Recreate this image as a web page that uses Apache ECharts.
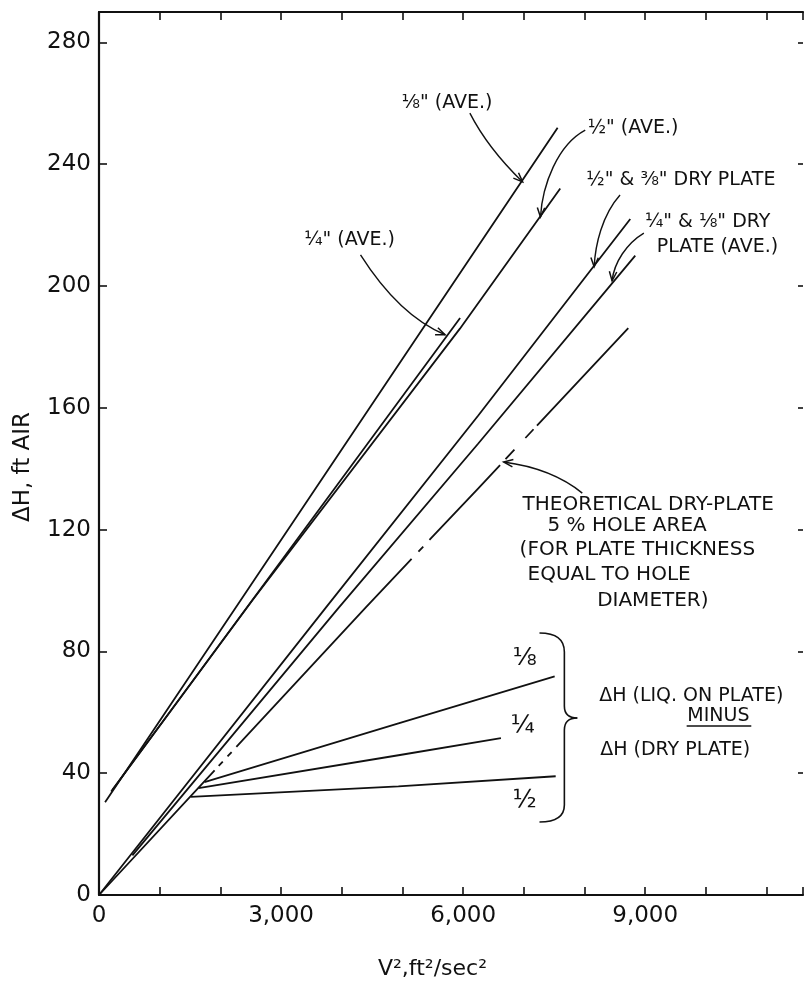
<!DOCTYPE html>
<html><head><meta charset="utf-8">
<script src="https://cdn.jsdelivr.net/npm/echarts@6/dist/echarts.min.js"></script>
<style>html,body{margin:0;padding:0;background:#fff}#c{width:806px;height:986px}</style>
</head><body><div id="c"></div>
<script>
// ---------- data (x = V^2 ft^2/sec^2, y = ΔH ft air) ----------
const xTickLabels = [0, 3000, 6000, 9000];
const yTickLabels = [0, 40, 80, 120, 160, 200, 240, 280];
const eighthAve   = [[100, 30.5], [2475, 101], [5311, 185.3], [7557, 252]];
const halfAve     = [[200, 34], [2525, 96.7], [5947, 186], [7600, 232]];
const quarterAve  = [[220, 34.5], [3900, 134], [5950, 189.5]];
const halfDry     = [[0, 0], [3738, 94.4], [6246, 157.4], [8754, 222]];
const quarterDry  = [[550, 13], [3951, 94.4], [6246, 148.2], [8836, 210]];
const theoretical = [[0, 0], [4393, 94.4], [6246, 133.5], [8721, 186.2]];
const liqEighth   = [[1738, 37.1], [4934, 56.4], [7508, 71.8]];
const liqQuarter  = [[1640, 35.1], [4934, 45.9], [6623, 51.5]];
const liqHalf     = [[1510, 32.2], [4934, 35.7], [7525, 39.0]];

// ---------- styling ----------
const ink = '#111';
const FONT = '"DejaVu Sans", "Noto Sans", sans-serif';
const fmt = v => String(v).replace(/\B(?=(\d{3})+(?!\d))/g, ',');
const lineW = 1.8;

function ser(name, data, extra) {
  return Object.assign({
    name, type: 'line', data, showSymbol: false, symbol: 'none', silent: true,
    lineStyle: { color: ink, width: lineW, cap: 'butt' }, z: 3
  }, extra || {});
}

const baseAxisLine = { show: true, onZero: false, lineStyle: { color: ink, width: 2.2 } };

const option = {
  animation: false,
  backgroundColor: '#fff',
  grid: { left: 99, right: -2, top: 12, bottom: 91, containLabel: false },
  xAxis: [
    {
      type: 'value', min: 0, max: 11600, interval: 1000, position: 'bottom',
      axisLine: baseAxisLine,
      axisTick: { show: true, inside: true, length: 8, lineStyle: { color: ink, width: 1.6 } },
      axisLabel: { formatter: v => xTickLabels.includes(v) ? fmt(v) : '', margin: 10,
                   fontSize: 23, fontFamily: FONT, color: ink },
      splitLine: { show: false },
      name: 'V²,ft²/sec²', nameLocation: 'middle', nameGap: 63,
      nameTextStyle: { fontSize: 22, fontFamily: FONT, color: ink, padding: [0, 37, 0, 0] }
    },
    {
      type: 'value', min: 0, max: 11600, interval: 1000, position: 'top',
      axisLine: baseAxisLine,
      axisTick: { show: true, inside: true, length: 8, lineStyle: { color: ink, width: 1.6 } },
      axisLabel: { show: false }, splitLine: { show: false }
    }
  ],
  yAxis: [
    {
      type: 'value', min: 0, max: 290, interval: 40, position: 'left',
      axisLine: baseAxisLine,
      axisTick: { show: true, inside: true, length: 8, lineStyle: { color: ink, width: 1.6 } },
      axisLabel: { formatter: v => yTickLabels.includes(v) ? String(v) : '', margin: 8,
                   fontSize: 23, fontFamily: FONT, color: ink },
      splitLine: { show: false },
      name: 'ΔH, ft AIR', nameLocation: 'middle', nameGap: 64,
      nameTextStyle: { fontSize: 23, fontFamily: FONT, color: ink, padding: [0, 27, 0, 0] }
    },
    {
      type: 'value', min: 0, max: 290, interval: 40, position: 'right',
      axisLine: { show: false, onZero: false },
      axisTick: { show: true, inside: true, length: 5, lineStyle: { color: ink, width: 1.6 } },
      axisLabel: { show: false }, splitLine: { show: false }
    }
  ],
  series: [
    ser('1/8" (AVE.)', eighthAve),
    ser('1/2" (AVE.)', halfAve),
    ser('1/4" (AVE.)', quarterAve),
    ser('1/2" & 3/8" DRY PLATE', halfDry),
    ser('1/4" & 1/8" DRY PLATE (AVE.)', quarterDry),
    ser('THEORETICAL DRY-PLATE', theoretical, {
      lineStyle: { color: ink, width: lineW, cap: 'butt',
        type: [170, 6, 6, 7, 6, 7, 257, 10, 7, 9, 103, 8, 13, 16, 12, 5, 1000, 1] }
    }),
    ser('1/8 liq.', liqEighth),
    ser('1/4 liq.', liqQuarter),
    ser('1/2 liq.', liqHalf)
  ]
};

const chart = echarts.init(document.getElementById('c'), null, { renderer: 'canvas' });
chart.setOption(option);

// ---------- annotations, anchored in data coordinates ----------
const P = p => chart.convertToPixel({ xAxisIndex: 0, yAxisIndex: 0 }, p);

const notes = [
  { t: '⅛" (AVE.)', at: [5734, 260.1], align: 'center', size: 19 },
  { t: '½" (AVE.)', at: [8800, 251.9], align: 'center', size: 19 },
  { t: '½" & ⅜" DRY PLATE', at: [8030, 234.8], align: 'left', size: 19 },
  { t: '¼" & ⅛" DRY', at: [8995, 221.0], align: 'left', size: 19 },
  { t: 'PLATE (AVE.)', at: [9191, 212.8], align: 'left', size: 19 },
  { t: '¼" (AVE.)', at: [4129, 215.1], align: 'center', size: 19 },
  { t: 'THEORETICAL DRY-PLATE', at: [6980, 128.1], align: 'left', size: 20 },
  { t: '5 % HOLE AREA', at: [7389, 121.2], align: 'left', size: 20 },
  { t: '(FOR PLATE THICKNESS', at: [6930, 113.3], align: 'left', size: 20 },
  { t: 'EQUAL TO HOLE', at: [7062, 105.1], align: 'left', size: 20 },
  { t: 'DIAMETER)', at: [8208, 96.6], align: 'left', size: 20 },
  { t: '⅛', at: [7012, 77.8], align: 'center', size: 25 },
  { t: '¼', at: [6980, 55.2], align: 'center', size: 25 },
  { t: '½', at: [7012, 30.9], align: 'center', size: 25 },
  { t: 'ΔH (LIQ. ON PLATE)', at: [8241, 65.4], align: 'left', size: 19 },
  { t: 'MINUS', at: [10207, 58.8], align: 'center', size: 19 },
  { t: 'ΔH (DRY PLATE)', at: [8258, 47.6], align: 'left', size: 19 }
];

// arrows: start, control(s), end (data coords)
const arrows = [
  { pts: [[6111, 256.8], [6406, 245.3], [6980, 234.2]] },
  { pts: [[8012, 251.2], [7553, 246.3], [7307, 233.2], [7274, 222.7]] },
  { pts: [[8585, 229.9], [8290, 223.3], [8176, 213.5], [8159, 206.3]] },
  { pts: [[8978, 217.4], [8700, 214.1], [8487, 207.8], [8454, 201.7]] },
  { pts: [[4309, 210.2], [4948, 190.2], [5702, 184.0]] },
  { pts: [[7963, 132.0], [7463, 140.1], [6668, 142.2]] }
];

const g = [];
const strokeStyle = w => ({ stroke: ink, lineWidth: w, fill: null });

notes.forEach(n => {
  const [x, y] = P(n.at);
  g.push({
    type: 'text', x, y, silent: true, z: 10,
    style: { text: n.t, fill: ink, font: `${n.size}px ${FONT}`,
             align: n.align, textAlign: n.align,
             verticalAlign: 'middle', textVerticalAlign: 'middle' }
  });
});

// underline of MINUS
{
  const a = P([9683, 55.5]), b = P([10748, 55.5]);
  g.push({ type: 'line', silent: true, shape: { x1: a[0], y1: a[1], x2: b[0], y2: b[1] }, style: strokeStyle(1.6) });
}

function head(end, from, len) {
  const dx = end[0] - from[0], dy = end[1] - from[1];
  const L = Math.hypot(dx, dy) || 1;
  const ux = dx / L, uy = dy / L;
  const ang = 0.38;
  const w = s => {
    const c = Math.cos(s * ang), sn = Math.sin(s * ang);
    const rx = ux * c - uy * sn, ry = ux * sn + uy * c;
    return [end[0] - rx * len, end[1] - ry * len];
  };
  return { type: 'polyline', silent: true, shape: { points: [w(1), end, w(-1)] }, style: strokeStyle(1.5) };
}

arrows.forEach(a => {
  const p = a.pts.map(P);
  const s = p[0], e = p[p.length - 1];
  const shape = { x1: s[0], y1: s[1], x2: e[0], y2: e[1], cpx1: p[1][0], cpy1: p[1][1] };
  if (p.length === 4) { shape.cpx2 = p[2][0]; shape.cpy2 = p[2][1]; }
  g.push({ type: 'bezierCurve', silent: true, shape, style: strokeStyle(1.4) });
  g.push(head(e, p[p.length - 2], 10));
});

// brace
{
  const X1 = 7258, X2 = 7668, X3 = 7881;
  const q = (a, c, b) => {
    const A = P(a), C = P(c), B = P(b);
    g.push({ type: 'bezierCurve', silent: true,
      shape: { x1: A[0], y1: A[1], cpx1: C[0], cpy1: C[1], x2: B[0], y2: B[1] }, style: strokeStyle(1.6) });
  };
  const l = (a, b) => {
    const A = P(a), B = P(b);
    g.push({ type: 'line', silent: true, shape: { x1: A[0], y1: A[1], x2: B[0], y2: B[1] }, style: strokeStyle(1.6) });
  };
  q([X1, 86.05], [X2, 86.05], [X2, 79.8]);
  l([X2, 79.8], [X2, 62.07]);
  q([X2, 62.07], [X2, 58.13], [X3, 58.13]);
  q([X3, 58.13], [X2, 58.13], [X2, 54.19]);
  l([X2, 54.19], [X2, 29.56]);
  q([X2, 29.56], [X2, 23.98], [X1, 23.98]);
}

chart.setOption({ graphic: { elements: g } });
</script>
</body></html>
